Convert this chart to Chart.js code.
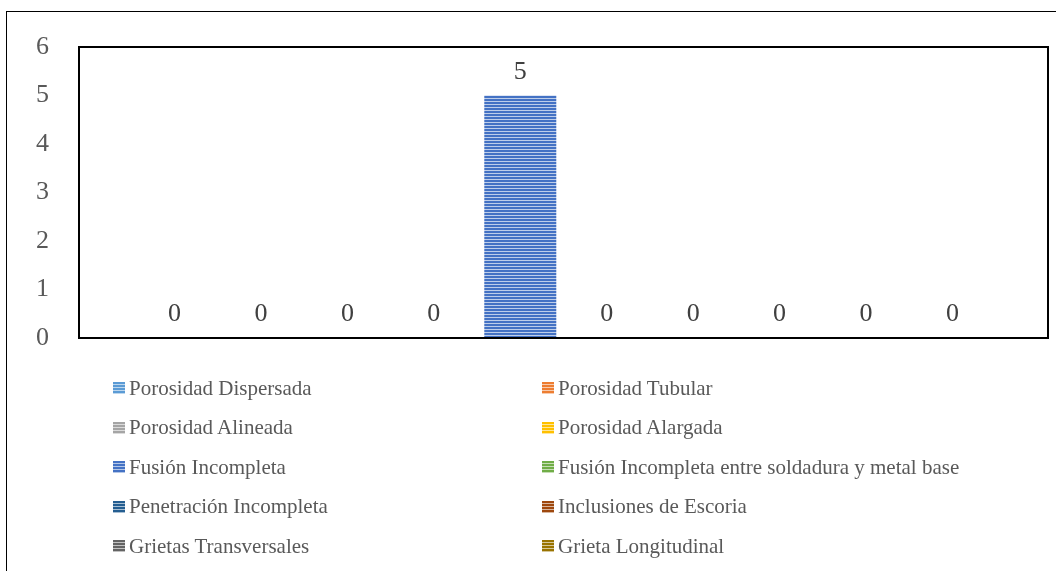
<!DOCTYPE html>
<html>
<head>
<meta charset="utf-8">
<script src="https://cdn.jsdelivr.net/npm/chart.js@4/dist/chart.umd.min.js"></script>
<style>
  html, body { margin: 0; padding: 0; background: #fff; width: 1056px; height: 571px; overflow: hidden; }
  #frame { position: absolute; left: 6px; top: 11px; width: 1100px; height: 600px; border-left: 1px solid #000; border-top: 1px solid #000; }
  #wrap { position: absolute; left: 0; top: 0; width: 1056px; height: 571px; }
  #legend { position: absolute; left: 0; top: 0; width: 1056px; height: 571px; font-family: "Liberation Serif", "Times New Roman", serif; font-size: 21px; color: #595959; }
  .item { position: absolute; display: flex; align-items: center; white-space: nowrap; height: 24px; }
  .sw { width: 12px; height: 12px; margin-right: 4px; flex: none; }
</style>
</head>
<body>
<div id="frame"></div>
<div id="wrap"><canvas id="c" width="1056" height="571"></canvas></div>
<div id="legend"></div>
<script>
// ---- data ----
const categories = [''];
const seriesNames = [
  'Porosidad Dispersada',
  'Porosidad Tubular',
  'Porosidad Alineada',
  'Porosidad Alargada',
  'Fusión Incompleta',
  'Fusión Incompleta entre soldadura y metal base',
  'Penetración Incompleta',
  'Inclusiones de Escoria',
  'Grietas Transversales',
  'Grieta Longitudinal'
];
const seriesValues = [0, 0, 0, 0, 5, 0, 0, 0, 0, 0];
const seriesColors = ['#5B9BD5', '#ED7D31', '#A5A5A5', '#FFC000', '#4472C4', '#70AD47', '#255E91', '#9E480E', '#636363', '#997300'];
const yTickMin = 0, yTickMax = 6, yTickStep = 1;

// ---- helpers ----
function lighten(hex, t) {
  const n = parseInt(hex.slice(1), 16);
  const r = (n >> 16) & 255, g = (n >> 8) & 255, b = n & 255;
  const f = v => Math.round(v + (255 - v) * t);
  return 'rgb(' + f(r) + ',' + f(g) + ',' + f(b) + ')';
}
function stripePattern(hex) {
  const pc = document.createElement('canvas');
  pc.width = 4; pc.height = 3;
  const p = pc.getContext('2d');
  p.fillStyle = hex; p.fillRect(0, 0, 4, 2);
  p.fillStyle = lighten(hex, 0.65); p.fillRect(0, 2, 4, 1);
  return document.getElementById('c').getContext('2d').createPattern(pc, 'repeat');
}

const datasets = seriesNames.map((name, i) => ({
  label: name,
  data: [seriesValues[i]],
  backgroundColor: stripePattern(seriesColors[i]),
  borderWidth: 0
}));

const frameAndLabels = {
  id: 'frameAndLabels',
  afterDatasetsDraw(chart) {
    const ctx = chart.ctx;
    const a = chart.chartArea;
    ctx.save();
    ctx.font = '26px "Liberation Serif", "Times New Roman", serif';
    ctx.fillStyle = '#404040';
    ctx.textAlign = 'center';
    ctx.textBaseline = 'alphabetic';
    chart.data.datasets.forEach((ds, i) => {
      const meta = chart.getDatasetMeta(i);
      meta.data.forEach((el, j) => {
        ctx.fillText(String(ds.data[j]), el.x, el.y - 17);
      });
    });
    ctx.strokeStyle = '#000';
    ctx.lineWidth = 2;
    ctx.strokeRect(a.left, a.top, a.right - a.left, a.bottom - a.top);
    ctx.restore();
  }
};

const chart = new Chart(document.getElementById('c'), {
  type: 'bar',
  data: { labels: categories, datasets },
  options: {
    responsive: false,
    animation: false,
    events: [],
    layout: { padding: { top: 47, right: 8, bottom: 233, left: 0 } },
    datasets: { bar: { categoryPercentage: 0.892, barPercentage: 0.833 } },
    plugins: { legend: { display: false }, tooltip: { enabled: false } },
    scales: {
      x: { display: false },
      y: {
        min: yTickMin, max: yTickMax,
        grid: { display: false, drawTicks: false },
        border: { display: false },
        ticks: {
          stepSize: yTickStep,
          padding: 30,
          color: '#595959',
          font: { family: '"Liberation Serif", "Times New Roman", serif', size: 26 }
        },
        afterFit(scale) { scale.width = 79; }
      }
    }
  },
  plugins: [frameAndLabels]
});

// ---- legend (two columns) ----
const legend = document.getElementById('legend');
const colX = [113, 542];
const rowY = [388, 427.5, 467, 506.5, 546];
seriesNames.forEach((name, i) => {
  const col = i % 2, row = Math.floor(i / 2);
  const item = document.createElement('div');
  item.className = 'item';
  item.style.left = colX[col] + 'px';
  item.style.top = (rowY[row] - 12) + 'px';
  const sw = document.createElement('span');
  sw.className = 'sw';
  const c = seriesColors[i];
  sw.style.background = 'repeating-linear-gradient(to bottom, ' + c + ' 0px, ' + c + ' 2px, ' + lighten(c, 0.6) + ' 2px, ' + lighten(c, 0.6) + ' 3px)';
  const tx = document.createElement('span');
  tx.textContent = name;
  item.appendChild(sw);
  item.appendChild(tx);
  legend.appendChild(item);
});
</script>
</body>
</html>
